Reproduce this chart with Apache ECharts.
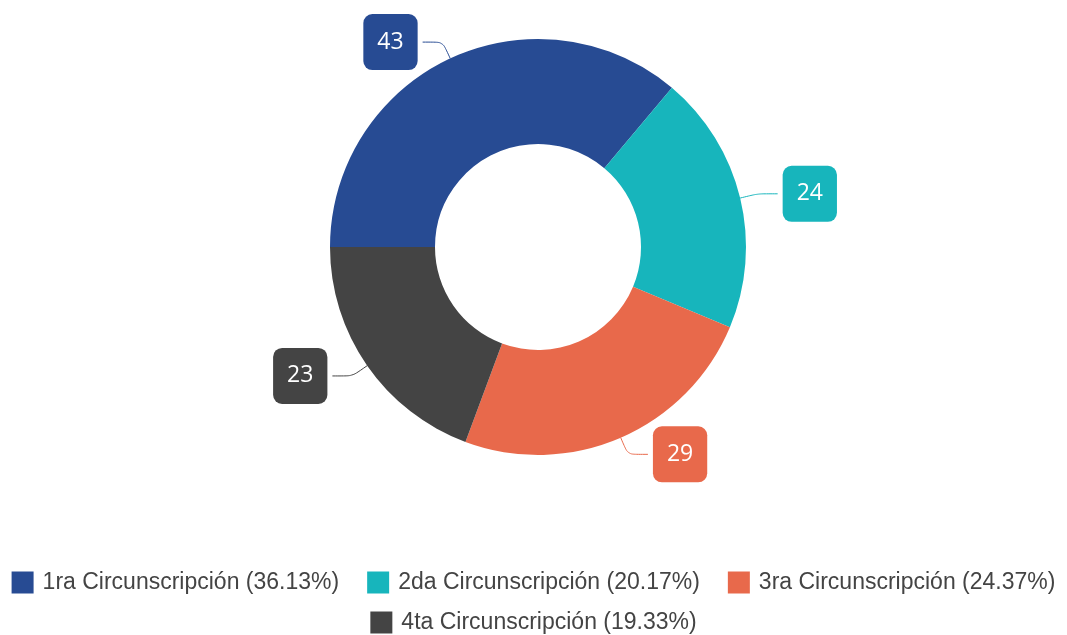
<!DOCTYPE html>
<html>
<head>
<meta charset="utf-8">
<script src="https://cdn.jsdelivr.net/npm/echarts@6/dist/echarts.min.js"></script>
<style>html,body{margin:0;padding:0;background:#fff;}#c{width:1067px;height:635px;}</style>
</head>
<body>
<div id="c"></div>
<script>
var categories = ['1ra Circunscripción', '2da Circunscripción', '3ra Circunscripción', '4ta Circunscripción'];
var values = [43, 24, 29, 23];
var colors = ['#274b93', '#17b5bc', '#e8694b', '#444444'];

var total = values.reduce(function (a, b) { return a + b; }, 0);
var pct = {};
categories.forEach(function (c, i) { pct[c] = (values[i] / total * 100).toFixed(2); });

var chart = echarts.init(document.getElementById('c'));
var legendText = {
  color: '#444',
  fontFamily: 'Liberation Sans, Arial, sans-serif',
  fontSize: 23,
  padding: [0, 0, 0, 4]
};
chart.setOption({
  animation: false,
  color: colors,
  legend: [{
    data: categories.slice(0, 3),
    left: 'center',
    top: 566,
    itemWidth: 22,
    itemHeight: 22,
    itemGap: 28,
    icon: 'rect',
    textStyle: legendText,
    formatter: function (n) { return n + ' (' + pct[n] + '%)'; }
  }, {
    data: categories.slice(3),
    left: 'center',
    top: 606,
    itemWidth: 22,
    itemHeight: 22,
    itemGap: 28,
    icon: 'rect',
    textStyle: legendText,
    formatter: function (n) { return n + ' (' + pct[n] + '%)'; }
  }],
  series: [{
    type: 'pie',
    center: [538, 247],
    radius: [103, 208],
    startAngle: 180,
    clockwise: true,
    emphasis: { disabled: true },
    data: categories.map(function (c, i) { return { name: c, value: values[i] }; }),
    label: {
      show: true,
      position: 'outside',
      formatter: '{c}',
      color: '#fff',
      fontFamily: 'Open Sans, sans-serif',
      fontSize: 23,
      backgroundColor: 'inherit',
      borderRadius: 9,
      padding: [17, 14, 16, 14]
    },
    labelLine: {
      show: true,
      length: 18,
      length2: 20,
      smooth: 0.2,
      lineStyle: { width: 1 }
    }
  }]
});
</script>
</body>
</html>
